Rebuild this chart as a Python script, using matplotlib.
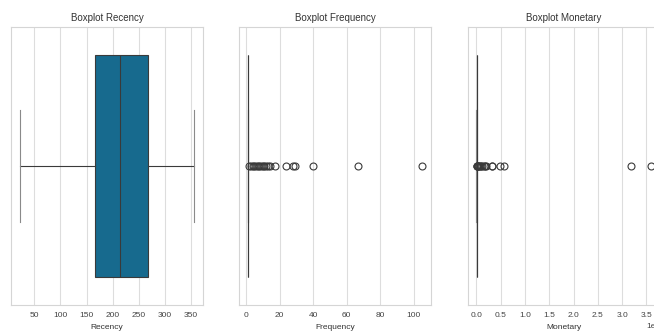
import matplotlib.pyplot as plt

# summary stats
recency_stats = {"med": 213, "q1": 166, "q3": 268, "whislo": 22, "whishi": 356}
recency_fliers = []

frequency_stats = {"med": 1, "q1": 1, "q3": 1, "whislo": 1, "whishi": 1}
frequency_fliers = [2, 3, 4, 5, 6, 7, 8, 9, 10, 11, 12, 13, 14, 17, 24, 28, 29, 40, 67, 105]

monetary_stats = {"med": 650, "q1": 300, "q3": 1650, "whislo": 0, "whishi": 3600}
monetary_fliers = [4000, 8000, 15000, 25000, 40000, 60000, 80000, 100000, 120000,
                   150000, 180000, 200000, 310000, 320000, 490000, 570000,
                   3180000, 3600000]

titles = ["Boxplot Recency", "Boxplot Frequency", "Boxplot Monetary"]
xlabels = ["Recency", "Frequency", "Monetary"]
recency_ticks = [50, 100, 150, 200, 250, 300, 350]
frequency_ticks = [0, 20, 40, 60, 80, 100]
monetary_ticks = [0, 500000, 1000000, 1500000, 2000000, 2500000, 3000000, 3500000]

box_color = "#176a8e"
line_color = "#3a3a3a"

plt.rcParams["font.family"] = ["Liberation Sans", "DejaVu Sans"]

fig = plt.figure(figsize=(6.54, 3.33), dpi=100)
positions = [0.0168, 0.3654, 0.7156]
axes = [fig.add_axes([x, 0.0841, 0.2936, 0.835]) for x in positions]

data = [(recency_stats, recency_fliers),
        (frequency_stats, frequency_fliers),
        (monetary_stats, monetary_fliers)]

for ax, (stats, fliers), title, xlabel in zip(axes, data, titles, xlabels):
    s = dict(stats)
    s["fliers"] = fliers
    ax.bxp([s], positions=[0], widths=0.8, vert=False, patch_artist=True,
           boxprops=dict(facecolor=box_color, edgecolor=line_color, linewidth=0.8),
           medianprops=dict(color=line_color, linewidth=0.8),
           whiskerprops=dict(color=line_color, linewidth=0.8),
           capprops=dict(color="#8a8a8a", linewidth=0.8),
           flierprops=dict(marker="o", markerfacecolor="none",
                           markeredgecolor=line_color, markersize=5, markeredgewidth=0.8))
    ax.set_ylim(0.5, -0.5)
    ax.set_yticks([])
    ax.set_title(title, fontsize=7, color="#333333", pad=4)
    ax.set_xlabel(xlabel, fontsize=6, color="#333333", labelpad=4)
    ax.tick_params(axis="x", labelsize=6, colors="#444444", length=0, pad=5)
    ax.grid(axis="x", color="#dddddd", linewidth=0.8)
    ax.set_axisbelow(True)
    for sp in ax.spines.values():
        sp.set_color("#d5d5d5")
        sp.set_linewidth(0.8)

axes[0].set_xticks(recency_ticks)
axes[1].set_xticks(frequency_ticks)
axes[2].set_xticks(monetary_ticks)
axes[2].set_xlim(-175000, 3780000)
axes[2].xaxis.get_offset_text().set_fontsize(6)

fig.savefig("out.png", dpi=100)
